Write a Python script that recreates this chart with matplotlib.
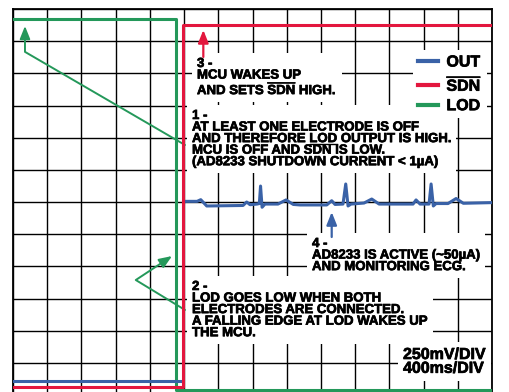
import matplotlib.pyplot as plt
import matplotlib.patheffects as pe
from matplotlib.lines import Line2D
import numpy as np

plt.rcParams['font.family'] = ['Liberation Sans', 'DejaVu Sans']
plt.rcParams['font.weight'] = 'bold'
plt.rcParams['mathtext.fontset'] = 'custom'
plt.rcParams['mathtext.rm'] = 'Liberation Sans:bold'
plt.rcParams['mathtext.bf'] = 'Liberation Sans:bold'
plt.rcParams['mathtext.default'] = 'rm'

# scope screen: 14 x 12 divisions, 400 ms/div, 250 mV/div
T_DIV = 0.4
V_DIV = 0.25

# LOD (leads off detect) - high until electrodes connect
lod_t = [0.0, 1.902, 1.902, 5.6]
lod_v = [2.922, 2.922, 0.039, 0.039]

# SDN - low (shutdown) until MCU wakes up
sdn_t = [0.0, 1.984, 1.984, 5.6]
sdn_v = [0.065, 0.065, 2.879, 2.879]

# OUT while in shutdown
out_off_t = [0.0, 1.976]
out_off_v = [0.111, 0.111]

# OUT once active (ECG)
ecg_t = [2.000, 2.152, 2.195, 2.265, 2.689, 2.732, 2.771, 2.853, 2.880, 2.894,
         2.912, 2.946, 3.098, 3.192, 3.277, 3.356, 3.668, 3.726, 3.765, 3.858,
         3.890, 3.917, 3.952, 4.104, 4.194, 4.280, 4.677, 4.712, 4.759, 4.864,
         4.888, 4.914, 4.946, 5.086, 5.180, 5.265, 5.589]
ecg_v = [1.505, 1.505, 1.518, 1.469, 1.473, 1.500, 1.479, 1.484, 1.488, 1.624,
         1.459, 1.484, 1.484, 1.516, 1.481, 1.477, 1.477, 1.510, 1.481, 1.484,
         1.640, 1.469, 1.484, 1.492, 1.523, 1.484, 1.484, 1.516, 1.484, 1.484,
         1.640, 1.469, 1.488, 1.488, 1.527, 1.490, 1.495]

BLUE = '#3a62a7'
RED = '#e3173e'
GREEN = '#24985a'
LS = 0.95
heavy = [pe.withStroke(linewidth=0.5, foreground='black')]

fig = plt.figure(figsize=(5.09, 3.92), dpi=100)
ax = fig.add_axes([13 / 509, -3 / 392, 479 / 509, 386 / 392])

ax.set_xlim(0, 14 * T_DIV)
ax.set_ylim(0, 12 * V_DIV)
ax.set_xticks(np.arange(0, 14.5) * T_DIV)
ax.set_yticks(np.arange(0, 12.5) * V_DIV)
ax.tick_params(length=0, labelbottom=False, labelleft=False)
ax.grid(True, color='black', lw=1.0)
ax.set_axisbelow(True)
for s in ax.spines.values():
    s.set_linewidth(1.3)

trace = dict(lw=2.2, zorder=5, solid_joinstyle='round')
ax.plot(lod_t, lod_v, color=GREEN, **trace)
ax.plot(out_off_t, out_off_v, color=BLUE, **trace)
ax.plot(ecg_t, ecg_v, color=BLUE, **trace)
ax.plot(sdn_t, sdn_v, color=RED, **trace)

# notes
note = dict(fontsize=9.5, fontweight='bold', va='top', ha='left', linespacing=LS,
            bbox=dict(boxstyle='square,pad=0.35', fc='white', ec='none'), zorder=3,
            path_effects=heavy)
note1_lines = ['1 -', 'AT LEAST ONE ELECTRODE IS OFF', 'AND THEREFORE LOD OUTPUT IS HIGH.',
               'MCU IS OFF AND SDN IS LOW.', '(AD8233 SHUTDOWN CURRENT < 1\u00b5A)']
ax.text(2.151, 2.619, '3 -\nMCU WAKES UP\nAND SETS $\\overline{SDN}$ HIGH.', **note)
ax.text(2.093, 2.215, '\n'.join(note1_lines), **note)
ax.text(3.496, 1.220, '4 -\nAD8233 IS ACTIVE (~50\u00b5A)\nAND MONITORING ECG.', **note)
ax.text(2.093, 0.886, '2 -\nLOD GOES LOW WHEN BOTH\nELECTRODES ARE CONNECTED.\n'
        'A FALLING EDGE AT LOD WAKES UP\nTHE MCU.', **note)
ax.text(4.560, 0.373, '250mV/DIV\n400ms/DIV', fontsize=11.5, fontweight='bold', va='top',
        ha='left', linespacing=0.9, path_effects=heavy,
        bbox=dict(boxstyle='square,pad=0.3', fc='white', ec='none'), zorder=3)

# arrows
head = '-|>,head_length=0.55,head_width=0.22'
ax.annotate('', xy=(0.140, 2.868), xytext=(2.011, 1.943), zorder=4,
            arrowprops=dict(arrowstyle=head, color=GREEN, lw=1.4, shrinkA=0, shrinkB=0,
                            mutation_scale=14, connectionstyle='angle,angleA=-30.2,angleB=90,rad=0'))
ax.annotate('', xy=(1.859, 1.080), xytext=(2.011, 0.661), zorder=4,
            arrowprops=dict(arrowstyle=head, color=GREEN, lw=1.4, shrinkA=0, shrinkB=0,
                            mutation_scale=14, connectionstyle='angle,angleA=-31.3,angleB=33.5,rad=0'))
ax.annotate('', xy=(2.225, 2.837), xytext=(2.225, 2.627), zorder=4,
            arrowprops=dict(arrowstyle=head, color=RED, lw=1.6, shrinkA=0, shrinkB=0,
                            mutation_scale=14))
ax.annotate('', xy=(3.726, 1.422), xytext=(3.726, 1.228), zorder=4,
            arrowprops=dict(arrowstyle=head, color=BLUE, lw=1.6, shrinkA=0, shrinkB=0,
                            mutation_scale=14))

handles = [Line2D([], [], color=c, lw=3) for c in (BLUE, RED, GREEN)]
leg = ax.legend(handles, ['OUT', '$\\overline{SDN}$', 'LOD'], loc='upper right',
                bbox_to_anchor=(0.9896, 0.8945), prop=dict(weight='bold', size=11.5),
                handlelength=1.3, handletextpad=0.5, labelspacing=0.27, borderpad=0.3,
                borderaxespad=0, fancybox=False, edgecolor='none', framealpha=1)
leg.set_zorder(6)
for txt in leg.get_texts():
    txt.set_path_effects(heavy)

# underline "LOD" in note 1: measure with throw-away texts laid out the same way
fig.canvas.draw()
r = fig.canvas.get_renderer()
plain = dict(fontsize=9.5, fontweight='bold', va='top', ha='left', linespacing=LS)
tmp_rows = ax.text(2.093, 2.215, '\n'.join(note1_lines[:3]), **plain)
tmp_head = ax.text(2.093, 2.215, 'AND THEREFORE LOD', **plain)
tmp_word = ax.text(2.093, 2.215, 'LOD', **plain)
_, _, lp_d = r.get_text_width_height_descent('lp', tmp_rows.get_fontproperties(), ismath=False)
base = tmp_rows.get_window_extent(r).y0 + lp_d
x_end = tmp_head.get_window_extent(r).x1
x_start = x_end - tmp_word.get_window_extent(r).width
for t in (tmp_rows, tmp_head, tmp_word):
    t.remove()
inv = fig.transFigure.inverted()
p0 = inv.transform((x_start, base - 1.5))
p1 = inv.transform((x_end, base - 1.5))
fig.add_artist(Line2D([p0[0], p1[0]], [p0[1], p1[1]], color='black', lw=1.0,
                      transform=fig.transFigure, zorder=7))

fig.savefig('out.png', dpi=100)
